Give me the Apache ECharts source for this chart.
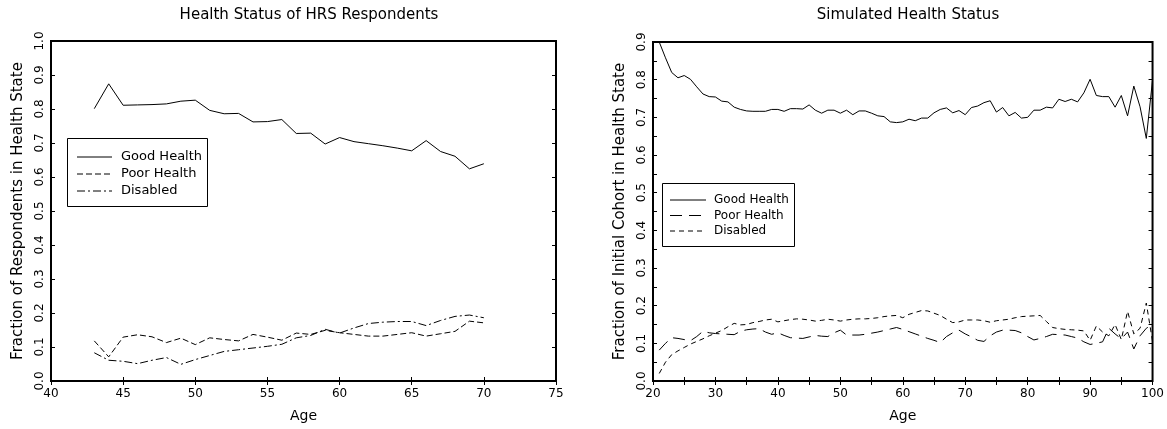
<!DOCTYPE html>
<html>
<head>
<meta charset="utf-8">
<script src="https://cdn.jsdelivr.net/npm/echarts@6/dist/echarts.min.js"></script>
<style>
html,body{margin:0;padding:0;background:#fff;}
#c{width:1167px;height:429px;}
</style>
</head>
<body>
<div id="c"></div>
<script>
// ---- Left chart: HRS respondents ----
var hrsAges = [43,44,45,46,47,48,49,50,51,52,53,54,55,56,57,58,59,60,61,62,63,64,65,66,67,68,69,70];
var hrsGood = [0.801,0.874,0.811,0.812,0.813,0.815,0.823,0.826,0.796,0.786,0.787,0.762,0.763,0.769,0.728,0.729,0.697,0.716,0.704,0.698,0.692,0.685,0.677,0.707,0.675,0.661,0.624,0.639];
var hrsPoor = [0.118,0.071,0.129,0.136,0.130,0.113,0.126,0.107,0.127,0.122,0.118,0.137,0.129,0.120,0.141,0.137,0.149,0.142,0.137,0.132,0.132,0.137,0.142,0.132,0.139,0.146,0.176,0.171];
var hrsDisabled = [0.083,0.061,0.058,0.051,0.061,0.069,0.049,0.063,0.075,0.087,0.092,0.097,0.102,0.108,0.127,0.134,0.152,0.141,0.156,0.169,0.173,0.175,0.175,0.163,0.178,0.190,0.194,0.186];

// ---- Right chart: simulated ----
var simAges = [21,22,23,24,25,26,27,28,29,30,31,32,33,34,35,36,37,38,39,40,
               41,42,43,44,45,46,47,48,49,50,51,52,53,54,55,56,57,58,59,60,
               61,62,63,64,65,66,67,68,69,70,71,72,73,74,75,76,77,78,79,80,
               81,82,83,84,85,86,87,88,89,90,91,92,93,94,95,96,97,98,99,100];
var simGood = [0.900,0.858,0.819,0.805,0.811,0.801,0.781,0.762,0.755,0.754,
               0.743,0.741,0.727,0.721,0.717,0.716,0.716,0.716,0.721,0.721,
               0.716,0.723,0.723,0.722,0.733,0.719,0.711,0.719,0.719,0.711,
               0.719,0.707,0.717,0.717,0.711,0.704,0.702,0.688,0.686,0.688,
               0.695,0.691,0.698,0.698,0.712,0.721,0.725,0.712,0.718,0.707,
               0.726,0.730,0.739,0.744,0.714,0.726,0.704,0.713,0.698,0.700,
               0.719,0.719,0.727,0.725,0.748,0.742,0.748,0.741,0.765,0.801,
               0.758,0.755,0.755,0.727,0.758,0.704,0.783,0.728,0.644,0.799];
var simPoor = [0.082,0.100,0.115,0.113,0.110,0.107,0.118,0.132,0.128,0.126,
               0.125,0.124,0.123,0.132,0.136,0.138,0.139,0.130,0.124,0.128,
               0.121,0.115,0.114,0.113,0.117,0.121,0.119,0.118,0.128,0.135,
               0.122,0.122,0.122,0.124,0.127,0.130,0.134,0.138,0.142,0.137,
               0.131,0.125,0.119,0.113,0.108,0.102,0.118,0.128,0.135,0.125,
               0.117,0.108,0.105,0.120,0.130,0.135,0.135,0.134,0.128,0.118,
               0.109,0.113,0.118,0.124,0.123,0.122,0.118,0.114,0.104,0.097,
               0.100,0.104,0.140,0.125,0.112,0.130,0.085,0.120,0.140,0.150];
var simDisabled = [0.020,0.050,0.070,0.080,0.089,0.098,0.105,0.112,0.120,0.127,
               0.134,0.144,0.153,0.149,0.150,0.155,0.158,0.162,0.164,0.157,
               0.160,0.163,0.165,0.164,0.162,0.159,0.161,0.164,0.162,0.159,
               0.162,0.164,0.165,0.165,0.166,0.168,0.171,0.173,0.174,0.168,
               0.177,0.182,0.187,0.186,0.180,0.174,0.164,0.155,0.157,0.162,
               0.162,0.162,0.160,0.156,0.160,0.162,0.164,0.168,0.171,0.172,
               0.173,0.174,0.158,0.142,0.139,0.137,0.136,0.135,0.133,0.108,
               0.146,0.130,0.120,0.150,0.110,0.185,0.125,0.140,0.207,0.105];

var seriesNames = ['Good Health','Poor Health','Disabled'];
var titles = ['Health Status of HRS Respondents','Simulated Health Status'];
var yNames = ['Fraction of Respondents in Health State','Fraction of Initial Cohort in Health State'];

var FONT = 'DejaVu Sans';
var INK = '#000';

function pairs(xs, ys){ return xs.map(function(x,i){ return [x, ys[i]]; }); }

var dashL = {good:'solid', poor:[6,3], dis:[8,3,2,3]};
var dashR = {good:'solid', poor:[12,7], dis:[5,4]};

function xAx(grid, min, max, interval, top, minor){
  return {
    type:'value', gridIndex:grid, min:min, max:max, interval:interval,
    position: top ? 'top' : 'bottom',
    axisLine:{show:false},
    axisTick:{show:true, inside:true, length:4, lineStyle:{color:INK, width:1}},
    minorTick:{show:!!minor, splitNumber:2, length:4, lineStyle:{color:INK, width:1}},
    splitLine:{show:false},
    axisLabel:{show:!top, color:INK, fontFamily:FONT, fontSize:12, margin:7},
    name: top ? '' : 'Age', nameLocation:'middle', nameGap:28,
    nameTextStyle:{color:INK, fontFamily:FONT, fontSize:14}
  };
}
function yAx(grid, min, max, interval, right, minor, name){
  return {
    type:'value', gridIndex:grid, min:min, max:max, interval:interval,
    position: right ? 'right' : 'left',
    axisLine:{show:false},
    axisTick:{show:true, inside:true, length:4, lineStyle:{color:INK, width:1}},
    minorTick:{show:!!minor, splitNumber:2, length:4, lineStyle:{color:INK, width:1}},
    splitLine:{show:false},
    axisLabel:{show:!right, color:INK, fontFamily:FONT, fontSize:12, margin:5, rotate:90,
      formatter:function(v){ return v.toFixed(1); }},
    name: right ? '' : name, nameLocation:'middle', nameGap:25,
    nameTextStyle:{color:INK, fontFamily:FONT, fontSize:15}
  };
}
function line(name, xi, yi, data, dash){
  return {
    type:'line', name:name, xAxisIndex:xi, yAxisIndex:yi, data:data,
    symbol:'none', showSymbol:false, clip:true, animation:false,
    lineStyle:{color:INK, width:1, type:dash}
  };
}

function legendGraphic(x, y, w, h, lx1, lx2, tx, rows, dashes, fs){
  var els = [{type:'rect', shape:{x:x, y:y, width:w, height:h}, style:{fill:'#fff', stroke:INK, lineWidth:1}, z:100}];
  for (var i=0;i<3;i++){
    var d = dashes[i];
    els.push({type:'line', shape:{x1:lx1, y1:rows[i], x2:lx2, y2:rows[i]},
      style:{stroke:INK, lineWidth:1, lineDash: d==='solid'?null:d}, z:101});
    els.push({type:'text', x:tx, y:rows[i], style:{text:seriesNames[i], fill:INK, font:fs+'px "'+FONT+'"', textVerticalAlign:'middle', verticalAlign:'middle'}, z:101});
  }
  return els;
}

var chart = echarts.init(document.getElementById('c'), null, {renderer:'canvas'});
var option = {
  animation:false,
  backgroundColor:'#fff',
  title:[
    {text:titles[0], left:304, top:3, textAlign:'center', textStyle:{color:INK, fontFamily:FONT, fontSize:15, fontWeight:'normal'}},
    {text:titles[1], left:903, top:3, textAlign:'center', textStyle:{color:INK, fontFamily:FONT, fontSize:15, fontWeight:'normal'}}
  ],
  grid:[
    {left:51, top:41, width:505, height:340, show:true, borderColor:INK, borderWidth:2, backgroundColor:'transparent'},
    {left:653, top:42, width:500, height:339, show:true, borderColor:INK, borderWidth:2, backgroundColor:'transparent'}
  ],
  xAxis:[
    xAx(0, 40, 75, 5, false, false),
    xAx(0, 40, 75, 5, true, false),
    xAx(1, 20, 100, 10, false, true),
    xAx(1, 20, 100, 10, true, true)
  ],
  yAxis:[
    yAx(0, 0, 1, 0.1, false, false, yNames[0]),
    yAx(0, 0, 1, 0.1, true, false, ''),
    yAx(1, 0, 0.9, 0.1, false, true, yNames[1]),
    yAx(1, 0, 0.9, 0.1, true, true, '')
  ],
  series:[
    line(seriesNames[0], 0, 0, pairs(hrsAges, hrsGood), dashL.good),
    line(seriesNames[1], 0, 0, pairs(hrsAges, hrsPoor), dashL.poor),
    line(seriesNames[2], 0, 0, pairs(hrsAges, hrsDisabled), dashL.dis),
    line(seriesNames[0], 2, 2, pairs(simAges, simGood), dashR.good),
    line(seriesNames[1], 2, 2, pairs(simAges, simPoor), dashR.poor),
    line(seriesNames[2], 2, 2, pairs(simAges, simDisabled), dashR.dis)
  ],
  graphic: legendGraphic(67.5, 138.5, 140, 68, 77, 112, 121, [157,174,191], [dashL.good, dashL.poor, dashL.dis], 13)
    .concat(legendGraphic(662.5, 183.5, 132, 63, 670, 706, 714, [200,215.5,231], [dashR.good, dashR.poor, dashR.dis], 12))
};
chart.setOption(option);
</script>
</body>
</html>
